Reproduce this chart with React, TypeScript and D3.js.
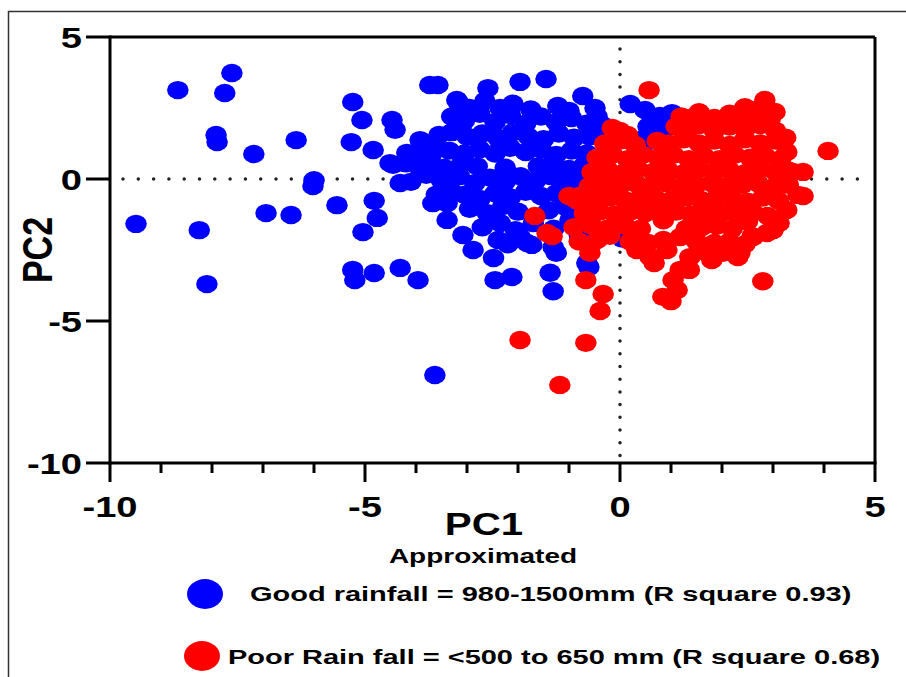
import React from 'react';
import * as d3 from 'd3';

const xTicks = [-10, -5, 0, 5];
const xMinorTicks = [-9, -8, -7, -6, -4, -3, -2, -1, 1, 2, 3, 4];
const yTicks = [5, 0, -5, -10];
const xLabel = 'PC1';
const yLabel = 'PC2';
const noteLabel = 'Approximated';
const legendLabels = [
  'Good rainfall = 980-1500mm (R square 0.93)',
  'Poor Rain fall = <500 to 650 mm (R square 0.68)',
];
const seriesColors = ['#0000FF', '#FF0000'];

const goodRainfall: [number, number][] = [
  [-9.49, -1.58], [-8.67, 3.13], [-7.61, 3.73], [-7.75, 3.03], [-7.92, 1.55], [-7.9, 1.3], [-8.25, -1.8], [-8.1, -3.7],
  [-7.18, 0.88], [-6.94, -1.2], [-6.45, -1.27], [-6.35, 1.37], [-6.02, -0.25], [-6.0, -0.04], [-5.55, -0.92], [-5.24, 2.71],
  [-5.27, 1.3], [-5.06, 2.08], [-5.04, -1.87], [-4.84, 1.02], [-4.82, -0.77], [-4.76, -1.37], [-5.24, -3.2], [-5.2, -3.56],
  [-4.82, -3.31], [-4.31, -3.13], [-3.96, -3.56], [-3.63, -6.9],
  [-3.73, 3.31], [-3.57, 3.31], [-4.47, 2.08], [-4.41, 1.73], [-3.92, 1.37], [-4.18, 0.92], [-4.51, 0.56], [-4.31, -0.14],
  [-4.0, 0.7], [-3.8, 0.5], [-3.7, 0.85], [-3.9, 0.25], [-3.67, -0.85], [-3.39, -0.85], [-3.39, -1.44],
  [-3.2, 2.78], [-2.59, 3.2], [-1.96, 3.42], [-1.45, 3.52], [-0.73, 2.92], [-0.49, 2.5], [-1.22, 2.57], [-3.16, 2.68],
  [-2.95, 2.5], [-2.65, 2.75], [-2.35, 2.5], [-2.1, 2.65], [-1.75, 2.45], [-1.0, 2.4], [-0.45, 2.2],
  [-3.3, 2.2], [-3.05, 2.05], [-2.75, 2.3], [-2.45, 2.0], [-2.15, 2.25], [-1.85, 1.95], [-1.55, 2.2], [-1.25, 2.0],
  [-0.95, 2.15], [-0.65, 1.95], [-0.35, 1.9],
  [-3.55, 1.55], [-3.3, 1.65], [-3.0, 1.5], [-2.7, 1.6], [-2.4, 1.45], [-2.1, 1.65], [-1.8, 1.5], [-1.5, 1.4],
  [-1.2, 1.6], [-0.9, 1.45], [-0.6, 1.5], [-0.3, 1.55],
  [0.2, 2.64], [0.49, 2.43], [0.78, 2.22], [1.02, 2.32], [0.55, 1.85], [0.45, 1.4], [0.85, 1.75], [0.43, 1.02],
  [-3.85, 0.95], [-3.6, 1.1], [-3.35, 1.0], [-3.05, 0.9], [-2.75, 1.05], [-2.45, 0.9], [-2.15, 1.1], [-1.85, 0.95],
  [-1.55, 1.05], [-1.25, 0.85], [-0.95, 1.0], [-0.65, 0.9],
  [-4.45, 0.5], [-4.2, 0.55], [-3.45, 0.4], [-3.1, 0.55], [-2.8, 0.45], [-2.25, 0.4], [-1.6, 0.45], [-1.3, 0.6],
  [-1.0, 0.35], [-0.7, 0.5],
  [-4.1, -0.1], [-3.8, 0.15], [-3.5, -0.05], [-3.15, 0.1], [-2.85, -0.15], [-2.55, 0.05], [-2.25, -0.1], [-1.95, 0.1],
  [-1.65, -0.05], [-1.35, 0.1], [-1.05, -0.15], [-0.75, -0.05],
  [-3.6, -0.55], [-3.3, -0.45], [-3.05, -0.55], [-2.75, -0.7], [-2.45, -0.5], [-2.15, -0.65], [-1.85, -0.45], [-1.55, -0.6],
  [-1.25, -0.5], [-0.95, -0.7], [-0.6, -0.55],
  [-2.95, -1.05], [-2.6, -1.2], [-2.3, -0.95], [-2.0, -1.15], [-1.4, -1.1], [-1.1, -0.95], [-0.85, -1.25],
  [-3.08, -1.97], [-2.88, -2.5], [-2.48, -2.78], [-2.7, -1.7], [-2.35, -1.55], [-2.05, -1.8], [-1.7, -1.55], [-1.3, -1.75],
  [-0.98, -1.44], [-0.8, -1.95], [-1.31, -2.4], [-1.82, -2.25], [-1.96, -2.03], [-2.2, -2.3], [-2.39, -2.15], [-1.73, -2.32],
  [-1.25, -2.6],
  [-2.45, -3.56], [-2.12, -3.45], [-1.37, -3.3], [-1.31, -3.95], [-0.61, -3.1], [-0.65, -2.96], [0.05, -2.1],
];

const poorRainfall: [number, number][] = [
  [0.57, 3.13], [-1.96, -5.67], [-0.67, -5.77], [-1.18, -7.25], [-0.39, -4.65], [-0.33, -4.05], [-0.67, -3.56],
  [4.08, 0.99], [3.59, 0.25], [3.59, -0.6], [3.12, -1.55], [2.8, -3.6],
  [1.0, -4.3], [0.84, -4.15], [1.12, -3.91], [1.04, -3.56], [1.18, -3.2], [1.36, -3.2], [1.8, -2.85], [2.31, -2.75],
  [2.59, -2.01], [2.88, -1.9], [3.0, -1.8], [3.27, -1.09], [3.49, -0.56], [3.39, 0.25], [3.27, 0.95],
  [0.59, -2.75], [0.92, -2.5], [1.18, -2.04], [1.37, -2.75], [1.7, -2.6], [2.02, -2.6], [2.35, -2.6], [2.61, -2.04],
  [0.67, -2.96], [0.33, -2.5], [-0.2, -2.0], [-0.59, -2.6], [-1.33, -2.01], [-1.67, -1.3], [-1.43, -1.9],
  [-0.8, -0.6], [-1.0, -0.6], [-0.61, -1.55], [-0.39, -0.35], [-0.29, 0.25],
  [1.39, 2.15], [1.98, 2.04], [2.35, 2.25], [2.45, 2.53], [2.75, 2.5], [2.84, 2.78], [3.04, 2.36], [0.0, 1.69], [0.73, 1.34],
  [1.2, 2.2], [1.55, 2.35], [1.85, 2.15], [2.15, 2.3], [2.6, 2.25], [2.95, 2.15],
  [-0.15, 1.8], [0.15, 1.55], [1.1, 1.85], [1.35, 1.75], [1.55, 1.9], [1.85, 1.7], [2.15, 1.85], [2.45, 1.75],
  [2.75, 1.9], [3.05, 1.7],
  [-0.3, 1.25], [0.0, 1.35], [0.3, 1.2], [0.95, 1.25], [1.25, 1.4], [1.55, 1.25], [1.85, 1.35], [2.15, 1.2],
  [2.45, 1.4], [2.75, 1.25], [3.05, 1.35], [3.25, 1.45],
  [-0.45, 0.75], [-0.15, 0.85], [0.15, 0.7], [0.45, 0.85], [0.75, 0.75], [1.05, 0.85], [1.35, 0.7], [1.65, 0.8],
  [1.95, 0.7], [2.25, 0.85], [2.55, 0.75], [2.85, 0.8], [3.15, 0.7],
  [-0.55, 0.25], [-0.25, 0.35], [0.05, 0.2], [0.35, 0.35], [0.65, 0.25], [0.95, 0.3], [1.25, 0.2], [1.55, 0.35],
  [1.85, 0.25], [2.15, 0.3], [2.45, 0.2], [2.75, 0.35], [3.05, 0.25], [3.3, 0.3],
  [-0.6, -0.25], [-0.3, -0.15], [0.0, -0.25], [0.3, -0.15], [0.6, -0.25], [0.9, -0.15], [1.2, -0.3], [1.5, -0.2],
  [1.8, -0.15], [2.1, -0.25], [2.4, -0.2], [2.7, -0.15], [3.0, -0.3], [3.3, -0.2],
  [-0.85, -0.75], [-0.5, -0.7], [-0.2, -0.65], [0.1, -0.75], [0.4, -0.65], [0.7, -0.7], [1.0, -0.75], [1.3, -0.65],
  [1.6, -0.75], [1.9, -0.65], [2.2, -0.7], [2.5, -0.8], [2.8, -0.65], [3.1, -0.75],
  [-0.7, -1.2], [-0.4, -1.15], [-0.1, -1.25], [0.2, -1.15], [0.5, -1.2], [0.8, -1.25], [1.1, -1.15], [1.4, -1.25],
  [1.7, -1.15], [2.0, -1.2], [2.3, -1.25], [2.6, -1.15], [2.9, -1.3],
  [-0.9, -1.7], [-0.55, -1.65], [-0.25, -1.75], [0.1, -1.65], [0.4, -1.75], [0.85, -1.45], [1.3, -1.75], [1.6, -1.7],
  [1.9, -1.65], [2.2, -1.75], [2.5, -1.5],
  [-0.8, -2.2], [-0.45, -2.15], [0.2, -2.2], [0.55, -2.25], [0.85, -2.15], [1.5, -2.2], [1.85, -2.25], [2.15, -2.2],
  [2.45, -2.3],
];

const FONT = '"Liberation Sans", Arial, sans-serif';

export default function App() {
  const x = d3.scaleLinear().domain([-10, 5]).range([110, 875]);
  const y = d3.scaleLinear().domain([-10, 5]).range([463, 37]);
  const [x0, x1] = x.range();
  const [y0, y1] = y.range();
  const series = [goodRainfall, poorRainfall];

  return (
    <svg
      width={906}
      height={677}
      style={{ position: 'absolute', left: 0, top: 0, background: '#fff' }}
      fontFamily={FONT}
      fontWeight="bold"
    >
      <rect x={8.5} y={11.5} width={1000} height={1000} fill="#fff" stroke="#333" strokeWidth={1.5} />

      {/* dotted zero lines */}
      <line x1={x(0)} x2={x(0)} y1={49} y2={y0} stroke="#222" strokeWidth={3.5}
        strokeDasharray="0 12.7" strokeLinecap="round" />
      <line x1={123} x2={862} y1={y(0)} y2={y(0)} stroke="#222" strokeWidth={3.5}
        strokeDasharray="0 15.3" strokeLinecap="round" />

      {/* points */}
      {series.map((pts, si) => (
        <g key={si} fill={seriesColors[si]}>
          {pts.map((p, i) => (
            <ellipse key={i} cx={x(p[0])} cy={y(p[1])} rx={10.8} ry={9.2} />
          ))}
        </g>
      ))}

      {/* frame */}
      <g stroke="#000" strokeWidth={3} fill="none">
        <line x1={x0} x2={x1} y1={y1} y2={y1} />
        <line x1={x1} x2={x1} y1={y1} y2={y0} />
        <line x1={x0} x2={x0} y1={y1 - 1.5} y2={y0 + 1.5} />
        <line x1={x0 - 1.5} x2={x1 + 1.5} y1={y0} y2={y0} />
        {xTicks.map((t) => (
          <line key={'xm' + t} x1={x(t)} x2={x(t)} y1={y0} y2={y0 + 19} />
        ))}
        {xMinorTicks.map((t) => (
          <line key={'xn' + t} x1={x(t)} x2={x(t)} y1={y0} y2={y0 + 10} />
        ))}
        {yTicks.map((t) => (
          <line key={'ym' + t} x1={x0} x2={x0 - 24} y1={y(t)} y2={y(t)} />
        ))}
      </g>

      {/* tick labels */}
      {xTicks.map((t) => (
        <text key={'xl' + t} transform={`translate(${x(t)},517) scale(1.27,1)`} textAnchor="middle"
          fontSize={30} fill="#000">{t}</text>
      ))}
      {yTicks.map((t) => (
        <text key={'yl' + t} transform={`translate(82,${y(t) + 11}) scale(1.27,1)`} textAnchor="end"
          fontSize={30} fill="#000">{t}</text>
      ))}

      {/* axis titles */}
      <text transform="translate(484,535) scale(1.3,1)" textAnchor="middle" fontSize={31} fill="#000">{xLabel}</text>
      <text transform="translate(52,250) rotate(-90) scale(1,1.25)" textAnchor="middle" fontSize={34} fill="#000">{yLabel}</text>
      <text transform="translate(483,563) scale(1.4,1)" textAnchor="middle" fontSize={20} fill="#000">{noteLabel}</text>

      {/* legend */}
      <ellipse cx={205} cy={594} rx={18} ry={15} fill={seriesColors[0]} />
      <text transform="translate(250,601) scale(1.38,1)" fontSize={21} fill="#000">{legendLabels[0]}</text>
      <ellipse cx={202} cy={656} rx={18} ry={15} fill={seriesColors[1]} />
      <text transform="translate(228,664) scale(1.38,1)" fontSize={21} fill="#000">{legendLabels[1]}</text>
    </svg>
  );
}
